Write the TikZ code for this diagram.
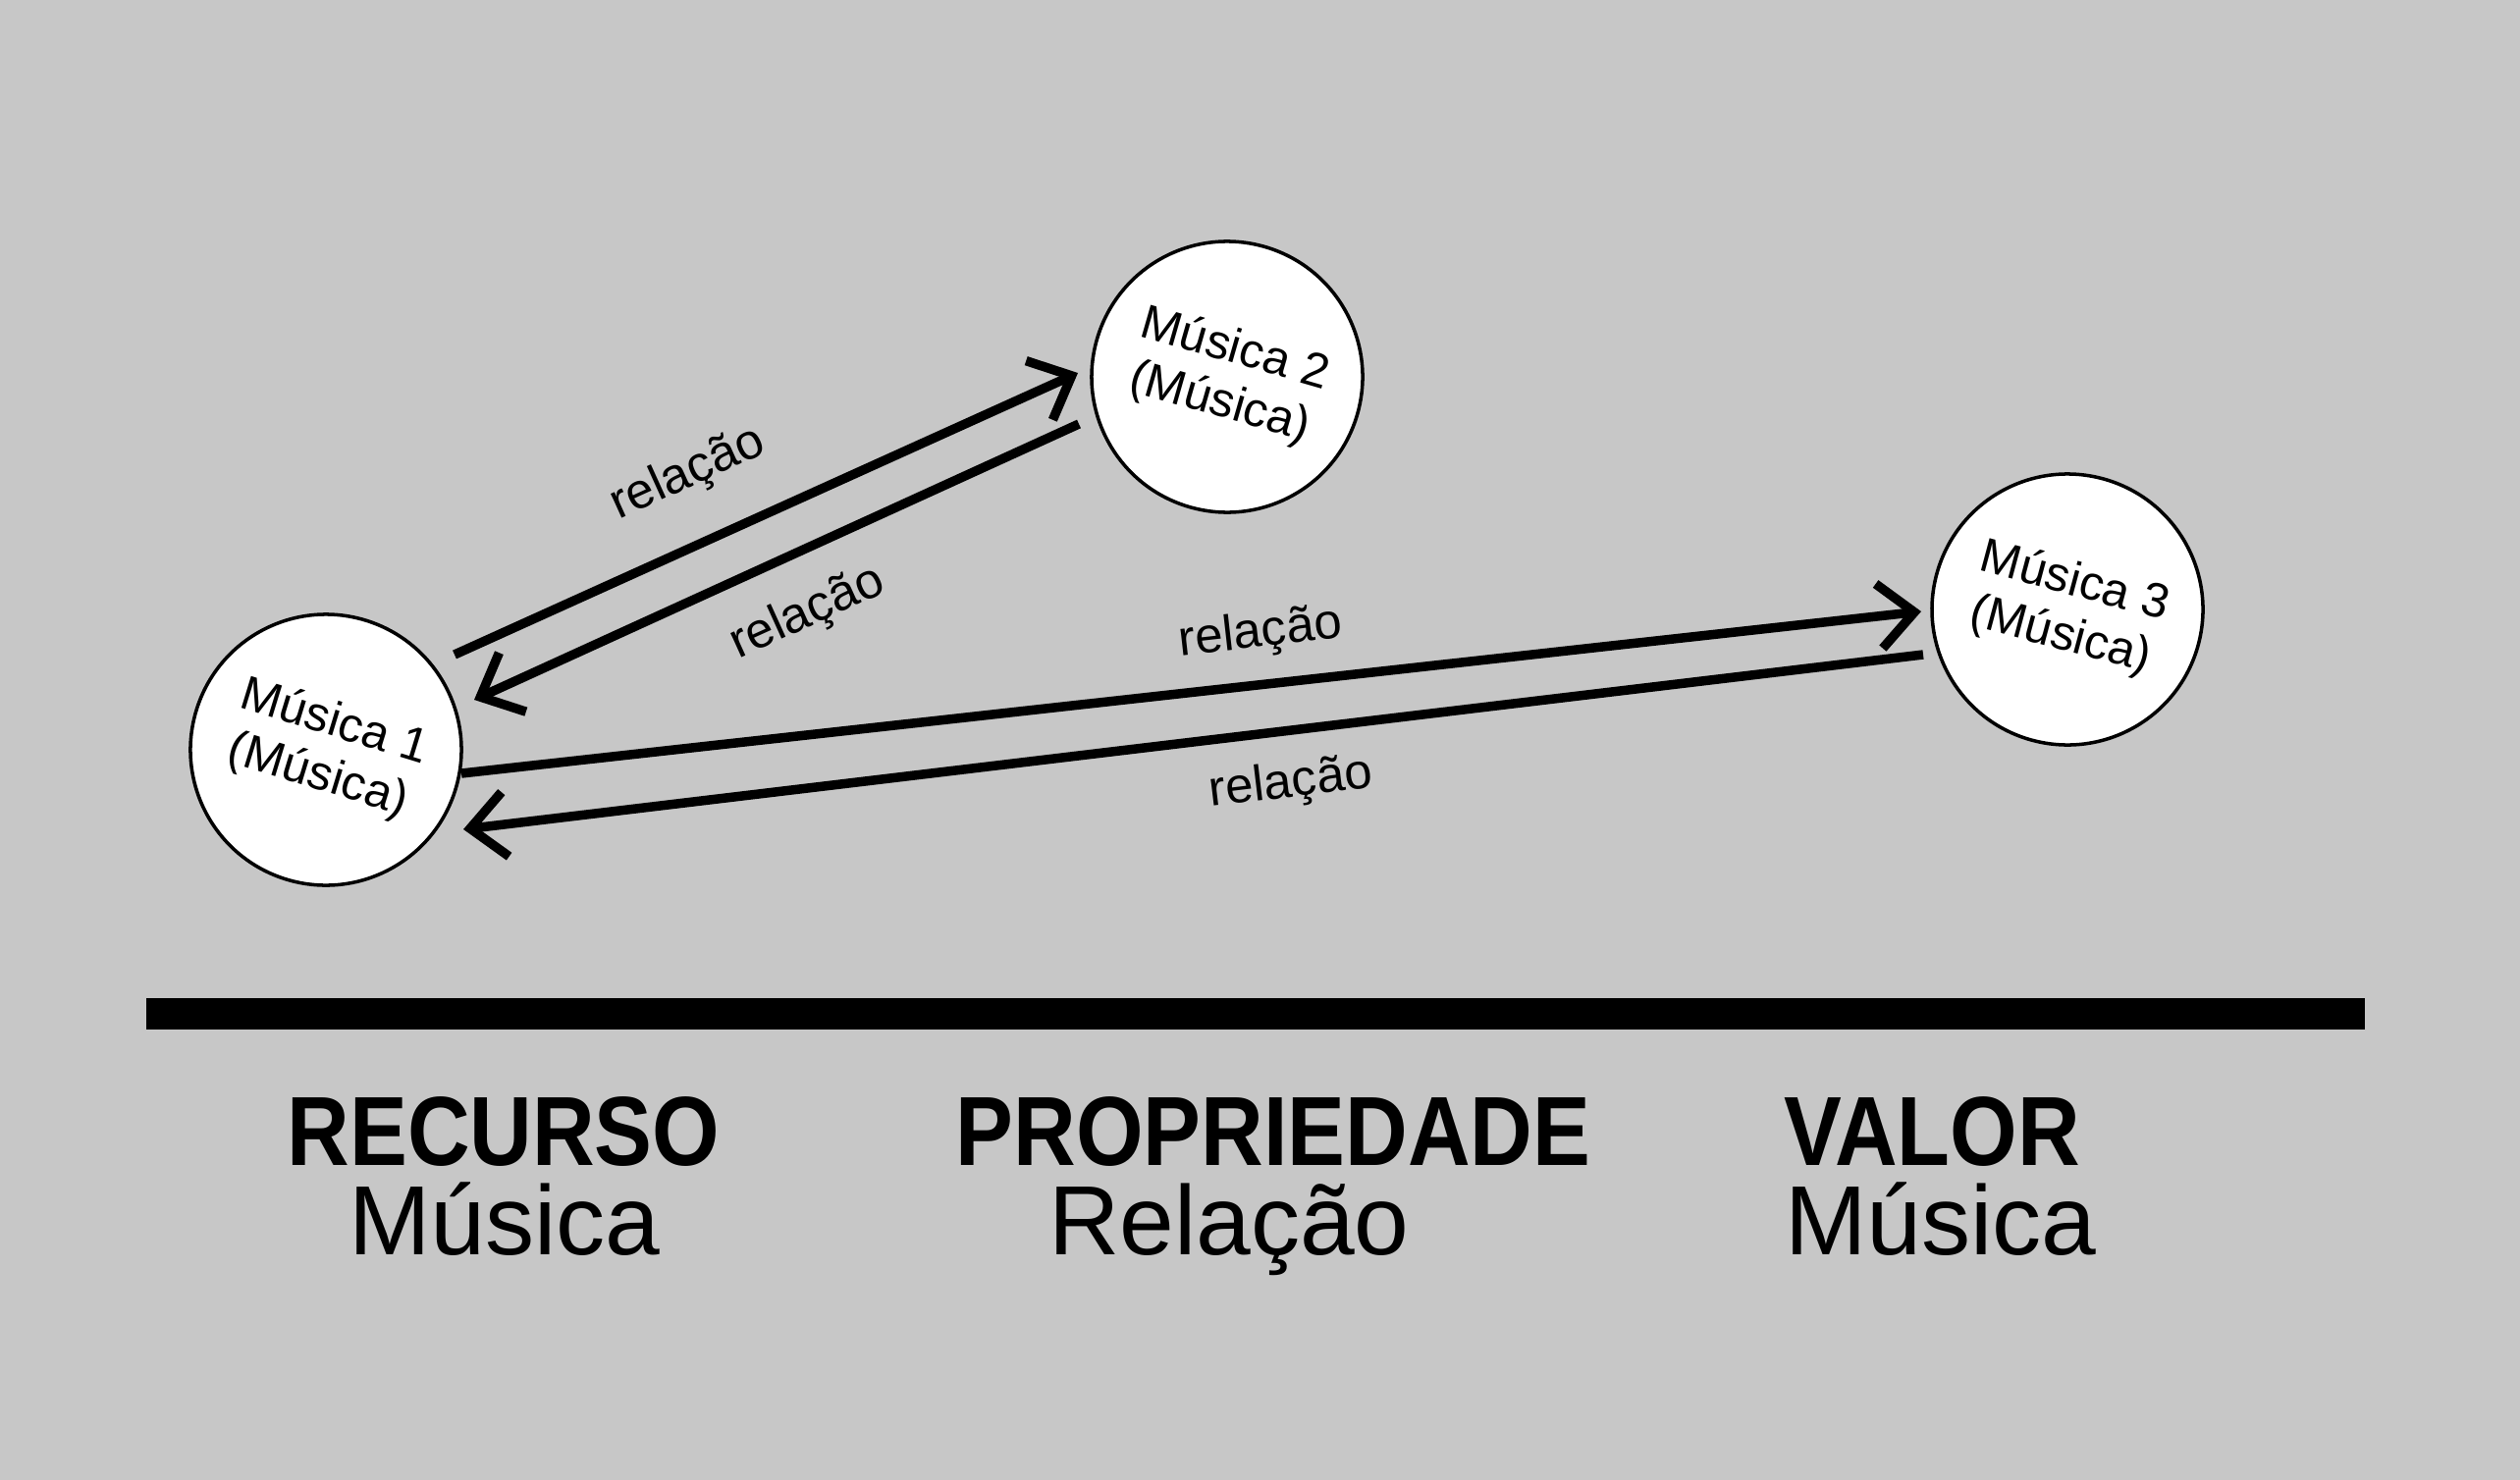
\documentclass[tikz,border=0pt]{standalone}
\usepackage{fontspec}
\setmainfont{Liberation Sans}[BoldFeatures={FakeStretch=0.88}]
\usepackage{tikz}
\usetikzlibrary{
    positioning,
    arrows.meta,
    calc
}
\definecolor{PanelGray}{RGB}{199,199,199}
\definecolor{LineInk}{RGB}{0,0,0}
\tikzset{
    musica/.style={circle, draw=LineInk, line width=1pt, fill=white, minimum size=2.76cm, inner sep=0pt, align=center, font=\fontsize{14}{16}\selectfont},
    rel/.style={-{Straight Barb[length=3.6mm,width=6.6mm]}, line width=2.7pt, draw=LineInk},
    rellabel/.style={font=\fontsize{14.5}{16}\selectfont, inner sep=0pt},
    headlabel/.style={font=\fontsize{28.5}{30}\selectfont\bfseries, anchor=base, inner sep=0pt},
    sublabel/.style={font=\fontsize{28.5}{30}\selectfont, anchor=base, inner sep=0pt}
}
\begin{document}
\begin{tikzpicture}
    % background panel
    \useasboundingbox (0,0) rectangle (25.67,-15.07);
    \fill[PanelGray] (-0.1,0.1) rectangle (25.77,-15.17);
    % resources
    \node[musica, rotate=-17] (m1) at (3.32,-7.64) {Música 1\\(Música)};
    \node[musica, rotate=-16] (m2) at (12.50,-3.84) {Música 2\\(Música)};
    \node[musica, rotate=-15] (m3) at (21.06,-6.21) {Música 3\\(Música)};
    % relations
    \draw[rel] ($(m1)+(1.31,0.97)$) -- ($(m2)+(-1.52,0.04)$);
    \draw[rel] ($(m2)+(-1.51,-0.48)$) -- ($(m1)+(1.51,0.51)$);
    \draw[rel] ($(m1)+(1.38,-0.24)$) -- ($(m3)+(-1.49,-0.02)$);
    \draw[rel] ($(m3)+(-1.47,-0.46)$) -- ($(m1)+(1.40,-0.81)$);
    \node[rellabel, rotate=24.4] (r12) at (7.01,-4.83) {relação};
    \node[rellabel, rotate=24.4] (r21) at (8.23,-6.25) {relação};
    \node[rellabel, rotate=6.4] (r13) at (12.84,-6.46) {relação};
    \node[rellabel, rotate=6.8] (r31) at (13.15,-7.99) {relação};
    % divider
    \fill[LineInk] (1.49,-10.17) rectangle (24.09,-10.49);
    % triple legend
    \node[headlabel] (recurso) at (5.13,-11.87) {RECURSO};
    \node[sublabel] (recursoval) at (5.14,-12.78) {Música};
    \node[headlabel] (propriedade) at (12.97,-11.87) {PROPRIEDADE};
    \node[sublabel] (propriedadeval) at (12.52,-12.78) {Relação};
    \node[headlabel] (valor) at (19.68,-11.87) {VALOR};
    \node[sublabel] (valorval) at (19.77,-12.78) {Música};
\end{tikzpicture}
\end{document}
